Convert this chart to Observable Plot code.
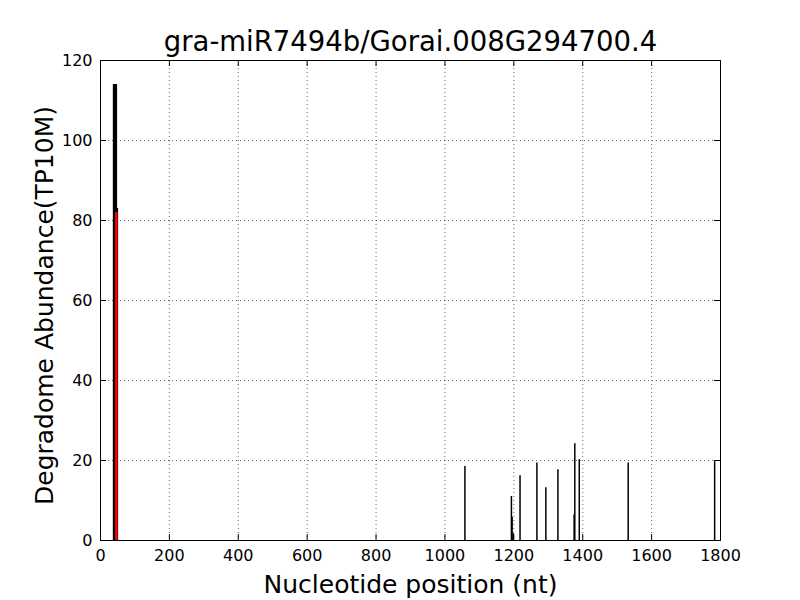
<!DOCTYPE html>
<html>
<head>
<meta charset="utf-8">
<script src="https://cdn.jsdelivr.net/npm/d3@7"></script>
<script src="https://cdn.jsdelivr.net/npm/@observablehq/plot@0.6"></script>
<style>
  html, body { margin: 0; padding: 0; background: #fff; }
  svg { font-family: "DejaVu Sans", sans-serif; }
</style>
</head>
<body>
<div id="chart"></div>
<script>
const title = "gra-miR7494b/Gorai.008G294700.4";
const xLabel = "Nucleotide position (nt)";
const yLabel = "Degradome Abundance(TP10M)";

const xTicks = [0, 200, 400, 600, 800, 1000, 1200, 1400, 1600, 1800];
const yTicks = [0, 20, 40, 60, 80, 100, 120];

// main cluster (black, thick)
const mainPos = [39, 41, 43, 45, 48];
const mainVal = [114, 114, 114, 114, 83];

// other degradome peaks (black)
const peakPos = [1058, 1193, 1195, 1198, 1218, 1267, 1293, 1328, 1375, 1377, 1390, 1532, 1783];
const peakVal = [18.5, 11, 5.8, 1.7, 16.2, 19.4, 13.2, 17.7, 6.4, 24.2, 20.2, 19.4, 19.7];

// cleavage site (red)
const redPos = [46];
const redVal = [82];

const mainData = mainPos.map((p, i) => ({pos: p, val: mainVal[i]}));
const peakData = peakPos.map((p, i) => ({pos: p, val: peakVal[i]}));
const redData = redPos.map((p, i) => ({pos: p, val: redVal[i]}));

const dots = "1,3";

const chart = Plot.plot({
  width: 800,
  height: 600,
  marginLeft: 100,
  marginRight: 80,
  marginTop: 60,
  marginBottom: 60,
  style: {fontFamily: "DejaVu Sans, sans-serif", background: "white", color: "black"},
  x: {domain: [0, 1800], ticks: xTicks},
  y: {domain: [0, 120], ticks: yTicks},
  marks: [
    Plot.gridX(xTicks.slice(1, -1), {stroke: "black", strokeOpacity: 1, strokeWidth: 0.6, strokeDasharray: dots}),
    Plot.gridY(yTicks.slice(1, -1), {stroke: "black", strokeOpacity: 1, strokeWidth: 0.6, strokeDasharray: dots}),
    Plot.ruleX(peakData, {x: "pos", y1: 0, y2: "val", stroke: "black", strokeWidth: 1.5}),
    Plot.ruleX(mainData, {x: "pos", y1: 0, y2: "val", stroke: "black", strokeWidth: 2.2}),
    Plot.ruleX(redData, {x: "pos", y1: 0, y2: "val", stroke: "#ff0000", strokeWidth: 2.6}),
    // inward tick marks on all four sides
    Plot.tickX(xTicks, {x: d => d, insetTop: 474, stroke: "black", strokeWidth: 1}),
    Plot.tickX(xTicks, {x: d => d, insetBottom: 474, stroke: "black", strokeWidth: 1}),
    Plot.tickY(yTicks, {y: d => d, insetRight: 614, stroke: "black", strokeWidth: 1}),
    Plot.tickY(yTicks, {y: d => d, insetLeft: 614, stroke: "black", strokeWidth: 1}),
    Plot.axisX(xTicks, {tickSize: 0, tickPadding: 9, fontSize: 16, label: null, tickFormat: d => String(d)}),
    Plot.axisY(yTicks, {tickSize: 0, tickPadding: 8, fontSize: 16, label: null, tickFormat: d => String(d)}),
    Plot.frame({stroke: "black", strokeWidth: 1}),
    Plot.text([title], {frameAnchor: "top", lineAnchor: "bottom", dy: -10, fontSize: 27.5, fill: "black"}),
    Plot.text([xLabel], {frameAnchor: "bottom", lineAnchor: "bottom", dy: 52, fontSize: 25, fill: "black"}),
    Plot.text([yLabel], {frameAnchor: "left", textAnchor: "middle", rotate: -90, dx: -56, dy: 5, fontSize: 25, fill: "black"})
  ]
});
document.getElementById("chart").appendChild(chart);
</script>
</body>
</html>
